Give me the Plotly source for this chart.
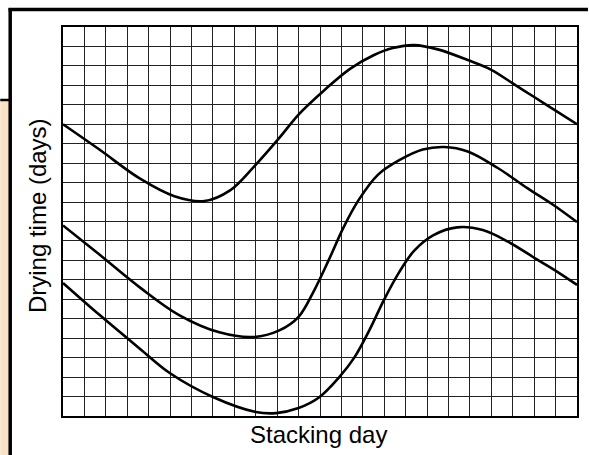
import plotly.graph_objects as go

# Data (x: stacking day grid units, y: drying time grid units)
top_x = [0, 1.7, 3.6, 5.2, 6.6, 7.8, 8.9, 10.1, 11.0, 12.2, 13.4, 14.5, 15.4, 16.4, 17.5, 18.9, 20.0, 21.0, 22.0, 23.0, 24]
top_y = [15.0, 13.7, 12.2, 11.3, 11.05, 11.6, 12.8, 14.3, 15.5, 16.75, 17.85, 18.55, 18.92, 19.07, 18.85, 18.3, 17.8, 17.1, 16.4, 15.7, 15.0]

mid_x = [0, 1.7, 3.6, 5.4, 7.3, 8.9, 10.1, 11.0, 11.7, 12.4, 13.1, 13.8, 14.7, 15.7, 16.8, 17.8, 18.9, 20.3, 21.7, 22.9, 24]
mid_y = [9.8, 8.3, 6.6, 5.2, 4.3, 4.06, 4.4, 5.1, 6.4, 8.0, 9.7, 11.1, 12.4, 13.15, 13.7, 13.83, 13.6, 12.75, 11.7, 10.85, 9.97]

low_x = [0, 1.7, 3.6, 5.0, 7.0, 9.0, 9.95, 11.0, 11.95, 12.9, 13.6, 14.3, 15.0, 15.7, 16.4, 17.3, 18.4, 19.6, 20.8, 22.2, 23.1, 24]
low_y = [6.84, 5.2, 3.45, 2.2, 0.98, 0.21, 0.15, 0.41, 0.95, 2.0, 3.0, 4.4, 6.0, 7.4, 8.5, 9.3, 9.7, 9.56, 8.95, 8.0, 7.4, 6.74]

x_title = "Stacking day"
y_title = "Drying time (days)"

fig = go.Figure()
for xs, ys in [(top_x, top_y), (mid_x, mid_y), (low_x, low_y)]:
    fig.add_trace(go.Scatter(x=xs, y=ys, mode="lines",
                             line=dict(color="black", width=2.6, shape="spline", smoothing=1.0),
                             hoverinfo="skip", showlegend=False))

W, H = 589, 455
L, R, T, B = 63, 10, 27, 39
pw, ph = W - L - R, H - T - B

def px(x):
    return (x - L) / pw

def py(y):
    return (H - B - y) / ph

shapes = [
    dict(type="rect", xref="paper", yref="paper", x0=px(0), x1=px(9), y0=py(455), y1=py(100),
         fillcolor="#FAE2C6", line=dict(width=0), layer="below"),
    dict(type="line", xref="paper", yref="paper", x0=px(0), x1=px(10), y0=py(100), y1=py(100),
         line=dict(color="black", width=2.5)),
    dict(type="line", xref="paper", yref="paper", x0=px(10), x1=px(10), y0=py(8), y1=py(456),
         line=dict(color="black", width=3.5)),
    dict(type="line", xref="paper", yref="paper", x0=px(8.3), x1=px(590), y0=py(9.5), y1=py(9.5),
         line=dict(color="black", width=3.5)),
]

fig.update_layout(
    width=W, height=H,
    margin=dict(l=L, r=R, t=T, b=B),
    paper_bgcolor="white", plot_bgcolor="white",
    font=dict(family="Liberation Sans, Arial, sans-serif", size=24, color="black"),
    shapes=shapes,
    annotations=[
        dict(text=x_title, xref="paper", yref="paper", x=px(319), y=py(434), showarrow=False,
             xanchor="center", yanchor="middle", font=dict(size=24)),
        dict(text=y_title, xref="paper", yref="paper", x=px(37), y=py(216), showarrow=False,
             xanchor="center", yanchor="middle", textangle=-90, font=dict(size=24)),
    ],
)
fig.update_xaxes(range=[0, 24], dtick=1, showgrid=True, gridcolor="#222", gridwidth=1,
                 showticklabels=False, ticks="", zeroline=False,
                 showline=True, linecolor="black", linewidth=1.5, mirror=True)
fig.update_yaxes(range=[0, 20], dtick=1, showgrid=True, gridcolor="#222", gridwidth=1,
                 showticklabels=False, ticks="", zeroline=False,
                 showline=True, linecolor="black", linewidth=1.5, mirror=True)

fig.write_html("out.html", config={"displayModeBar": False},
               post_script="document.body.style.margin='0';document.body.style.overflow='hidden';")
